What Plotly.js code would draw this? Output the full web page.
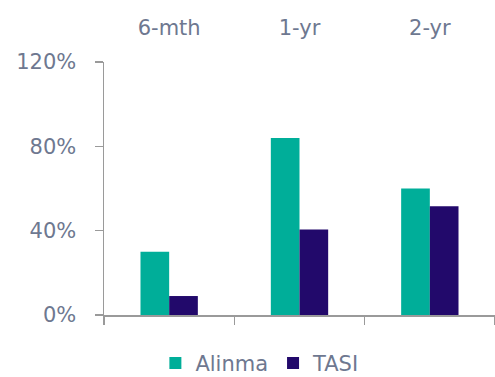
<!DOCTYPE html>
<html>
<head>
<meta charset="utf-8">
<script src="https://cdn.plot.ly/plotly-3.0.1.min.js"></script>
<style>html,body{margin:0;padding:0;background:#fff;}#chart{width:495px;height:377px;}</style>
</head>
<body>
<div id="chart"></div>
<script>
const categories = ["6-mth", "1-yr", "2-yr"];
const alinma = [30, 84, 60];
const tasi = [9, 40.5, 51.6];
const yTickVals = [0, 40, 80, 120];
const yTickText = ["0%", "40%", "80%", "120%"];

const textColor = "#6e7890";
const font = {family: "'DejaVu Sans', sans-serif", size: 21, color: textColor};

const data = [
  {type: "bar", name: "Alinma", x: categories, y: alinma, marker: {color: "#00ae99"}, xaxis: "x", yaxis: "y"},
  {type: "bar", name: "TASI", x: categories, y: tasi, marker: {color: "#22096b"}, xaxis: "x", yaxis: "y"},
  {type: "scatter", mode: "markers", x: categories, y: [null, null, null], xaxis: "x2", yaxis: "y", showlegend: false, hoverinfo: "skip"}
];

const layout = {
  width: 495, height: 377,
  margin: {l: 104, r: 0, t: 62, b: 62},
  paper_bgcolor: "#fff", plot_bgcolor: "#fff",
  font: font,
  barmode: "group",
  bargap: 0.56,
  bargroupgap: 0,
  showlegend: true,
  legend: {orientation: "h", xref: "container", yref: "container", x: 0.525, xanchor: "center", y: 0.036, yanchor: "middle", font: font, itemwidth: 30, tracegroupgap: 0},
  xaxis: {
    type: "category", showline: true, linecolor: "#9a9a9a", linewidth: 1.5,
    ticks: "outside", tickson: "boundaries", ticklen: 8, tickcolor: "#9a9a9a", tickwidth: 1.5,
    showticklabels: false, showgrid: false, zeroline: false, range: [-0.5, 2.5]
  },
  xaxis2: {
    type: "category", overlaying: "x", matches: "x", side: "top", showline: false, ticks: "",
    showgrid: false, zeroline: false, tickfont: font, ticklabelstandoff: 22
  },
  yaxis: {
    range: [0, 120], tickvals: yTickVals, ticktext: yTickText, showline: true, linecolor: "#9a9a9a", linewidth: 1.5,
    ticks: "outside", ticklen: 8, tickcolor: "#9a9a9a", tickwidth: 1.5, showgrid: false, zeroline: false,
    tickfont: font, ticklabelstandoff: 14
  }
};

Plotly.newPlot("chart", data, layout, {displayModeBar: false, staticPlot: true});
</script>
</body>
</html>
